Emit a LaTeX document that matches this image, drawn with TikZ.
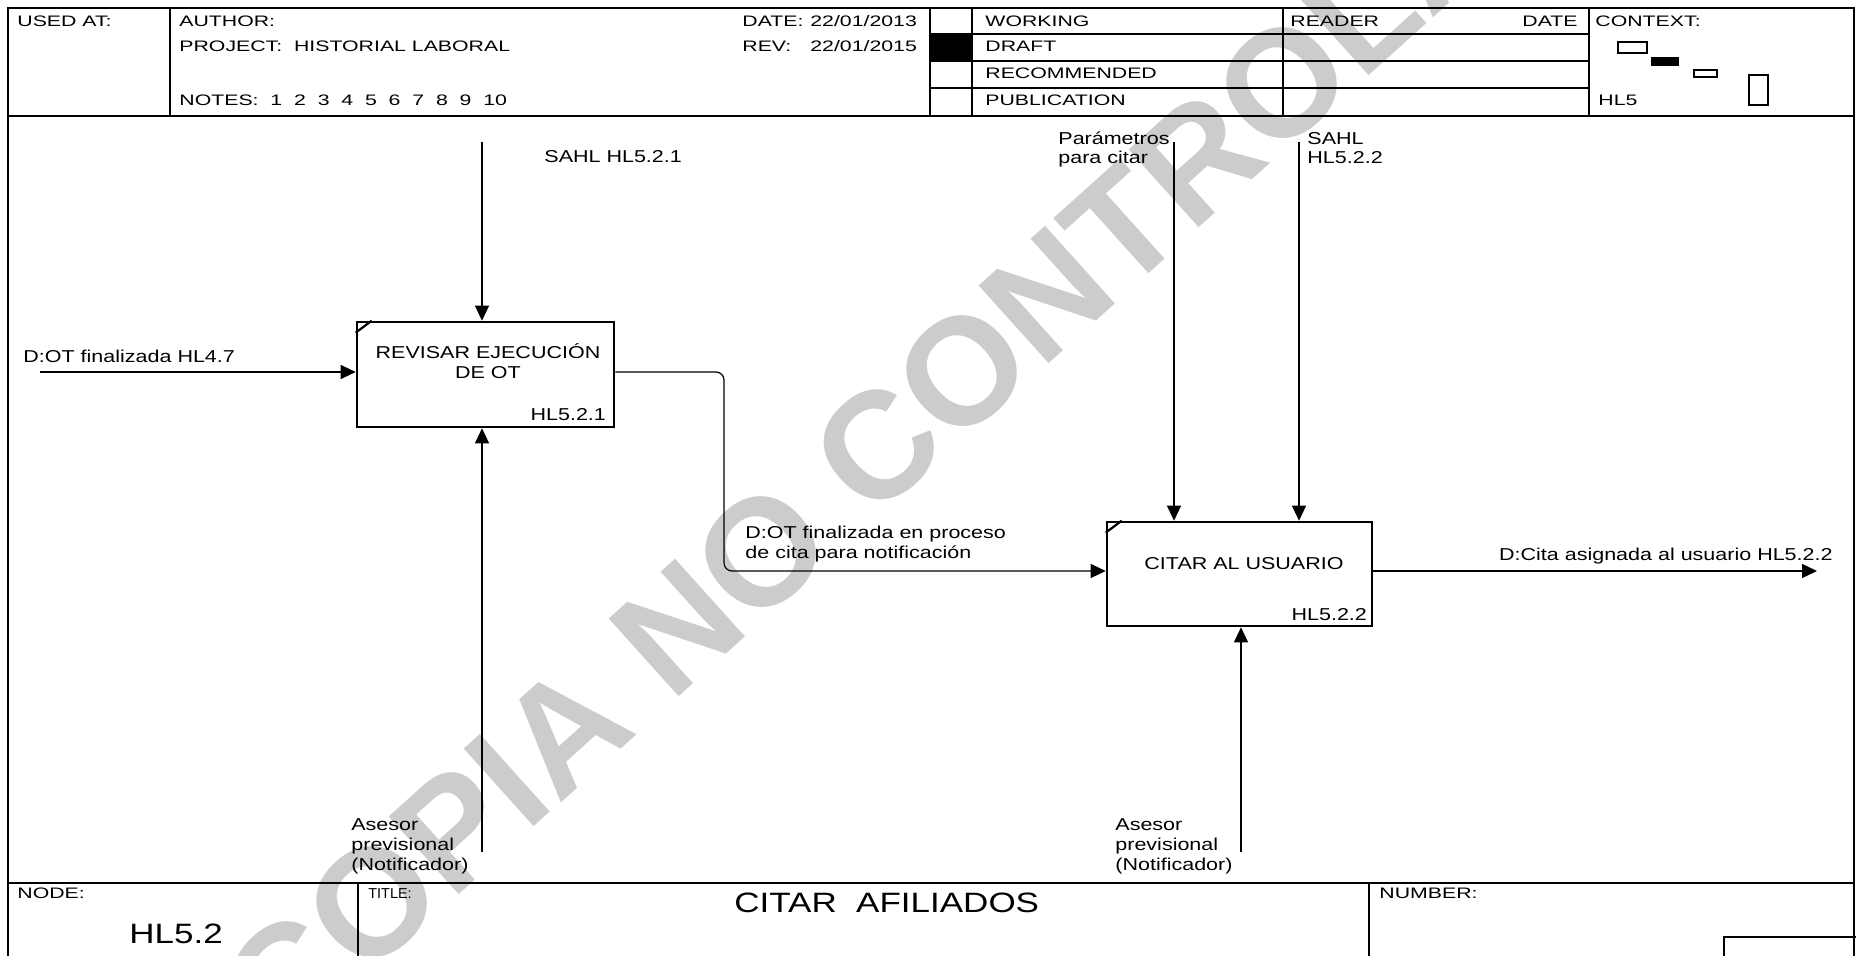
\documentclass[tikz,border=0pt]{standalone}
\usepackage{fontspec}
\setmainfont[FakeStretch=1.25]{Liberation Sans}
\newfontfamily\hdrfont[FakeStretch=1.4]{Liberation Sans}
\newfontfamily\plainfont{Liberation Sans}
\usetikzlibrary{arrows.meta,calc}
\definecolor{wmgray}{RGB}{204,204,204}
\begin{document}
\begin{tikzpicture}[x=0.5pt,y=-0.5pt,
  frame/.style={line width=0.75pt},
  hdr/.style={font=\hdrfont\fontsize{7.6}{9}\selectfont, inner sep=0pt, anchor=base west},
  lbl/.style={font=\fontsize{8.6}{9.8}\selectfont, inner sep=0pt, anchor=base west, align=left},
  boxtxt/.style={font=\fontsize{8.6}{10}\selectfont, inner sep=0pt, align=center},
  actbox/.style={draw, line width=1.3pt, inner sep=0pt},
  arr/.style={line width=0.6pt, -{Triangle[length=7.5pt,width=7pt]}},
  big/.style={font=\fontsize{14}{16}\selectfont, inner sep=0pt, anchor=base west},
  ctx/.style={draw, line width=0.6pt}
]
\useasboundingbox (0,0) rectangle (1856,956);
\clip (0,0) rectangle (1856,956);

% watermark
\node[font=\plainfont\bfseries\fontsize{76}{76}\selectfont, text=wmgray, rotate=42, anchor=mid, inner sep=0pt] (wm) at (975,423) {COPIA NO CONTROLADA};

% outer frame
\draw[frame] (8,8) rectangle (1854,990);
% header
\draw[frame] (8,116) -- (1854,116);
\draw[frame] (170,8) -- (170,116);
\draw[frame] (930,8) -- (930,116);
\draw[frame] (972,8) -- (972,116);
\draw[frame] (1283,8) -- (1283,116);
\draw[frame] (1589,8) -- (1589,116);
\draw[frame] (930,34) -- (1589,34);
\draw[frame] (930,61) -- (1589,61);
\draw[frame] (930,88) -- (1589,88);
\fill (930,34) rectangle (972,61);

\node[hdr] (usedat) at (17,27) {USED AT:};
\node[hdr] (author) at (179,27) {AUTHOR:};
\node[hdr] (project) at (179,52) {PROJECT:\ \ HISTORIAL LABORAL};
\node[hdr] (notes) at (179,106) {NOTES:\ \ 1\ \ 2\ \ 3\ \ 4\ \ 5\ \ 6\ \ 7\ \ 8\ \ 9\ \ 10};
\node[hdr] (datek) at (742,27) {DATE:};
\node[hdr] (datev) at (810,27) {22/01/2013};
\node[hdr] (revk) at (742,52) {REV:};
\node[hdr] (revv) at (810,52) {22/01/2015};
\node[hdr] (working) at (985,27) {WORKING};
\node[hdr] (draft) at (985,52) {DRAFT};
\node[hdr] (recom) at (985,79) {RECOMMENDED};
\node[hdr] (publ) at (985,106) {PUBLICATION};
\node[hdr] (reader) at (1290,27) {READER};
\node[hdr, anchor=base east] (rdate) at (1578,27) {DATE};
\node[hdr] (context) at (1595,27) {CONTEXT:};
\node[hdr] (hl5) at (1598,106) {HL5};
\draw[ctx] (1618,42) rectangle (1647,53);
\fill (1651,57) rectangle (1679,66);
\draw[ctx] (1694,70) rectangle (1717,77);
\draw[ctx] (1749,75) rectangle (1768,105);

% footer
\draw[frame] (8,883) -- (1854,883);
\draw[frame] (358,883) -- (358,990);
\draw[frame] (1369,883) -- (1369,990);
\draw[frame] (1724,937) rectangle (1870,990);
\node[hdr] (nodek) at (17,898) {NODE:};
\node[hdr, font=\plainfont\fontsize{7.2}{8}\selectfont] (titlek) at (368,898) {TITLE:};
\node[hdr] (numberk) at (1379,898) {NUMBER:};
\node[big] (nodev) at (129,943) {HL5.2};
\node[big] (titlev) at (734,912) {CITAR\ \ AFILIADOS};

% activity boxes
\node[actbox, minimum width=128.5pt, minimum height=52.5pt] (b1) at (485.5,374.5) {};
\node[actbox, minimum width=132.5pt, minimum height=52pt] (b2) at (1239.5,574) {};
\draw[line width=1.1pt] ($(b1.north west)+(0,12)$) -- ($(b1.north west)+(16,0)$);
\draw[line width=1.1pt] ($(b2.north west)+(0,12)$) -- ($(b2.north west)+(16,0)$);
\node[boxtxt, anchor=base] (t1) at (488,379) {REVISAR EJECUCIÓN\\DE OT};
\node[boxtxt, anchor=base east] (n1) at ($(b1.south east)+(-9,-8)$) {HL5.2.1};
\node[boxtxt, anchor=base] (t2) at (1244,569) {CITAR AL USUARIO};
\node[boxtxt, anchor=base east] (n2) at ($(b2.south east)+(-6,-7)$) {HL5.2.2};

% connector end points
\coordinate (c1) at (482,142);
\coordinate (i1) at (40,372);
\coordinate (m1) at (482,852);
\coordinate (o1) at (724,571);
\coordinate (c2) at (1174,142);
\coordinate (c3) at (1299,142);
\coordinate (m2) at (1241,852);
\coordinate (e2) at (1817,571);

\draw[arr] (c1) -- (c1 |- b1.north);
\draw[arr] (i1) -- (i1 -| b1.west);
\draw[arr] (m1) -- (m1 |- b1.south);
\draw[arr, rounded corners=4pt] (i1 -| b1.east) -| (o1) -- (o1 -| b2.west);
\draw[arr] (c2) -- (c2 |- b2.north);
\draw[arr] (c3) -- (c3 |- b2.north);
\draw[arr] (m2) -- (m2 |- b2.south);
\draw[arr] (o1 -| b2.east) -- (e2);

% labels (multi-line nodes anchored at the baseline of their last line)
\node[lbl] (l1) at (544,163) {SAHL HL5.2.1};
\node[lbl] (l2) at (23,363) {D:OT finalizada HL4.7};
\node[lbl] (l3) at (351,870) {Asesor\\previsional\\(Notificador)};
\node[lbl] (l4) at (745,558) {D:OT finalizada en proceso\\de cita para notificación};
\node[lbl] (l5) at (1058,164) {Parámetros\\para citar};
\node[lbl] (l6) at (1307,164) {SAHL\\HL5.2.2};
\node[lbl] (l7) at (1115,870) {Asesor\\previsional\\(Notificador)};
\node[lbl, anchor=base east] (l8) at (1833,560) {D:Cita asignada al usuario HL5.2.2};
\end{tikzpicture}
\end{document}
